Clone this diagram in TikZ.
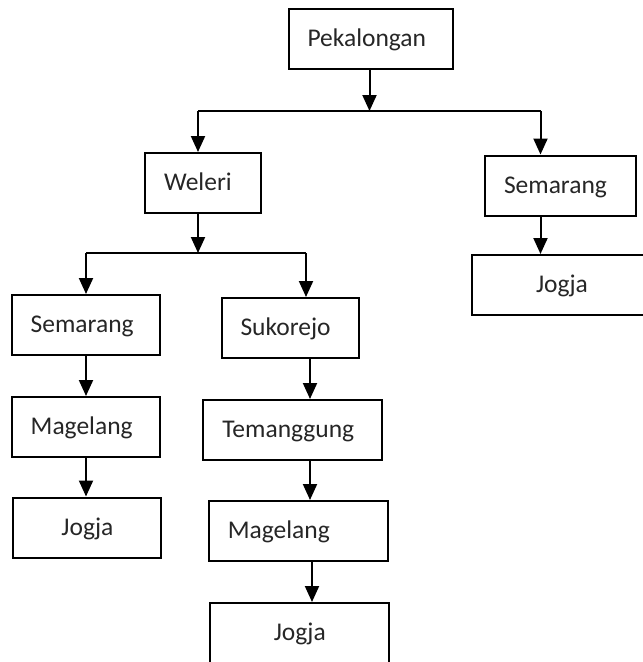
\documentclass[tikz,border=0pt]{standalone}
\usepackage{fontspec}
\setmainfont{Carlito}
\usetikzlibrary{arrows.meta}

\tikzset{
  kotak/.style={draw, line width=2pt, minimum height=60pt, inner xsep=19pt,
    text width=#1, align=left, text height=20pt, text depth=5pt,
    font=\fontsize{25.5}{30}\selectfont, text=black!85},
  kotakj/.style={kotak=#1, align=center},
  garis/.style={line width=2pt},
  panah/.style={garis, -{Triangle[width=14pt,length=16pt]}}
}

\begin{document}
\begin{tikzpicture}[x=1pt, y=-1pt]

\useasboundingbox (0,0) rectangle (643,662);
\clip (0,0) rectangle (643,662);

% Kotak kota
\node[kotak=126pt] (pek) at (370.5,38.5) {Pekalongan};
\node[kotak=78pt] (wel) at (203,183) {Weleri};
\node[kotak=113pt] (sem1) at (560.5,185.5) {Semarang};
\node[kotakj=142pt] (jog1) at (562,285) {Jogja};
\node[kotak=110pt] (sem2) at (85.7,325) {Semarang};
\node[kotak=99pt] (suk) at (290,328) {Sukorejo};
\node[kotak=110pt] (mag1) at (85.7,427) {Magelang};
\node[kotakj=110pt] (jog2) at (87.4,527.5) {Jogja};
\node[kotak=141pt] (tem) at (292.8,430) {Temanggung};
\node[kotak=141pt] (mag2) at (298.3,531) {Magelang};
\node[kotakj=141pt] (jog3) at (299.8,633) {Jogja};

% Titik cabang
\coordinate (c1) at (369.5,111);
\coordinate (c1kiri) at (198,111);
\coordinate (c1kanan) at (540.5,111);
\coordinate (c2) at (198,253);
\coordinate (c2kiri) at (86,253);
\coordinate (c2kanan) at (306,253);
\coordinate (k3) at (310,0);

% Cabang dari Pekalongan
\draw[panah] (c1 |- pek.south) -- (c1);
\draw[garis] (c1kiri) -- (c1kanan);
\draw[panah] (c1kiri) -- (c1kiri |- wel.north);
\draw[panah] (c1kanan) -- (c1kanan |- sem1.north);
\draw[panah] (c1kanan |- sem1.south) -- (c1kanan |- jog1.north);

% Cabang dari Weleri
\draw[panah] (c2 |- wel.south) -- (c2);
\draw[garis] (c2kiri) -- (c2kanan);
\draw[panah] (c2kiri) -- (c2kiri |- sem2.north);
\draw[panah] (c2kanan) -- (c2kanan |- suk.north);

% Jalur kiri
\draw[panah] (c2kiri |- sem2.south) -- (c2kiri |- mag1.north);
\draw[panah] (c2kiri |- mag1.south) -- (c2kiri |- jog2.north);

% Jalur tengah
\draw[panah] (k3 |- suk.south) -- (k3 |- tem.north);
\draw[panah] (k3 |- tem.south) -- (k3 |- mag2.north);
\draw[panah] ([xshift=2pt]k3 |- mag2.south) -- ([xshift=2pt]k3 |- jog3.north);

\end{tikzpicture}
\end{document}
